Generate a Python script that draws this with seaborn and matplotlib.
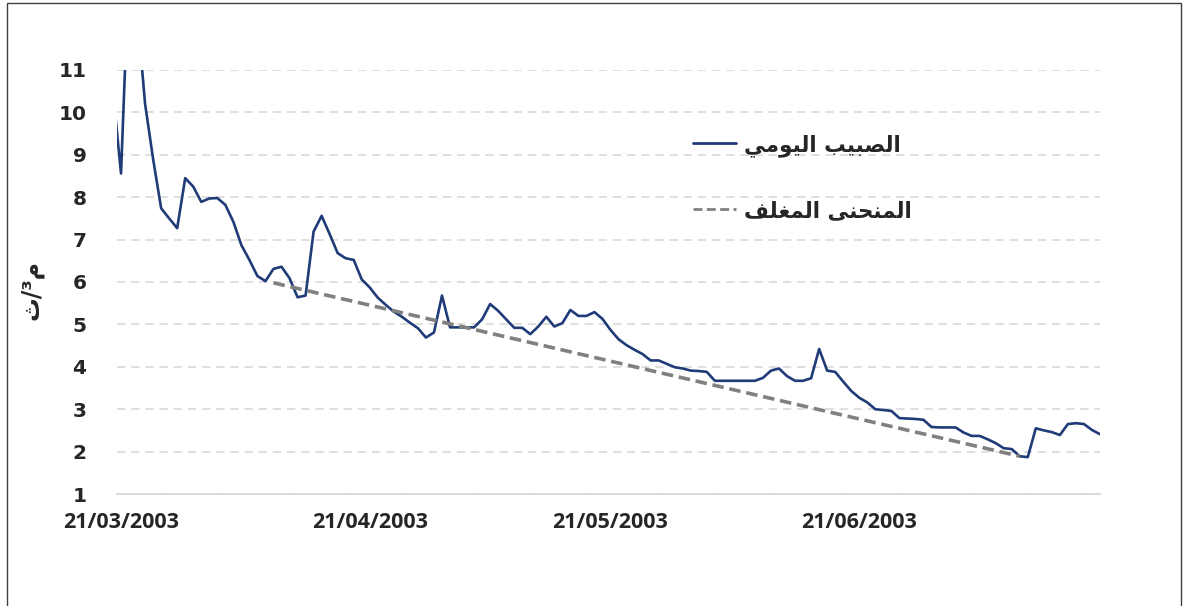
import pandas as pd
import seaborn as sns
import matplotlib.pyplot as plt
import matplotlib.dates as mdates
from matplotlib.patches import Rectangle

# --- Data ---
START_DATE = "2003-03-20"
daily_flow = [
    10.5, 8.56, 13.5, 12.4, 10.2, 8.9, 7.74, 7.5, 7.27, 8.45,
    8.25, 7.89, 7.97, 7.98, 7.82, 7.42, 6.87, 6.52, 6.14, 6.02,
    6.31, 6.36, 6.09, 5.64, 5.68, 7.19, 7.56, 7.13, 6.68, 6.56,
    6.52, 6.06, 5.87, 5.63, 5.46, 5.30, 5.18, 5.04, 4.91, 4.69,
    4.81, 5.68, 4.93, 4.93, 4.93, 4.93, 5.12, 5.48, 5.32, 5.12,
    4.92, 4.92, 4.77, 4.95, 5.18, 4.95, 5.03, 5.34, 5.20, 5.20,
    5.29, 5.13, 4.87, 4.65, 4.51, 4.40, 4.30, 4.15, 4.15, 4.07,
    3.99, 3.96, 3.91, 3.90, 3.88, 3.67, 3.67, 3.67, 3.67, 3.67,
    3.67, 3.74, 3.91, 3.96, 3.78, 3.67, 3.67, 3.73, 4.42, 3.91,
    3.88, 3.65, 3.43, 3.27, 3.16, 3.00, 2.98, 2.96, 2.79, 2.78,
    2.77, 2.75, 2.58, 2.57, 2.57, 2.57, 2.45, 2.37, 2.37, 2.29,
    2.20, 2.08, 2.06, 1.89, 1.87, 2.55, 2.50, 2.46, 2.39, 2.65,
    2.67, 2.65, 2.51, 2.41,
]
envelope_dates = ["2003-04-09", "2003-07-11"]
envelope_flow = [5.98, 1.89]
tick_dates = ["2003-03-21", "2003-04-21", "2003-05-21", "2003-06-21"]
y_ticks = list(range(1, 12))

LABEL_DAILY = "الصبيب اليومي"
LABEL_ENVELOPE = "المنحنى المغلف"
Y_LABEL = "ث/³م"  # m3/s, already in visual order

# --- minimal Arabic shaping (matplotlib has no RTL / joining support) ---
FORMS = {
    "ا": ("\ufe8d", "\ufe8e", "\ufe8d", "\ufe8e"),
    "و": ("\ufeed", "\ufeee", "\ufeed", "\ufeee"),
    "ى": ("\ufeef", "\ufef0", "\ufeef", "\ufef0"),
    "ل": ("\ufedd", "\ufede", "\ufedf", "\ufee0"),
    "ص": ("\ufeb9", "\ufeba", "\ufebb", "\ufebc"),
    "ب": ("\ufe8f", "\ufe90", "\ufe91", "\ufe92"),
    "ي": ("\ufef1", "\ufef2", "\ufef3", "\ufef4"),
    "م": ("\ufee1", "\ufee2", "\ufee3", "\ufee4"),
    "ن": ("\ufee5", "\ufee6", "\ufee7", "\ufee8"),
    "ح": ("\ufea1", "\ufea2", "\ufea3", "\ufea4"),
    "غ": ("\ufecd", "\ufece", "\ufecf", "\ufed0"),
    "ف": ("\ufed1", "\ufed2", "\ufed3", "\ufed4"),
}
DUAL = set("لصبيمنحغف")


def shape(text):
    out = []
    for i, ch in enumerate(text):
        if ch not in FORMS:
            out.append(ch)
            continue
        prev = text[i - 1] if i > 0 else ""
        nxt = text[i + 1] if i + 1 < len(text) else ""
        join_prev = prev in DUAL
        join_next = ch in DUAL and nxt in FORMS
        iso, fin, ini, med = FORMS[ch]
        if join_prev and join_next:
            out.append(med)
        elif join_prev:
            out.append(fin)
        elif join_next:
            out.append(ini)
        else:
            out.append(iso)
    return "".join(reversed(out))


daily = pd.DataFrame({
    "date": pd.date_range(START_DATE, periods=len(daily_flow), freq="D"),
    "flow": daily_flow,
})
envelope = pd.DataFrame({"date": pd.to_datetime(envelope_dates), "flow": envelope_flow})

sns.set_theme(style="white")
plt.rcParams["font.family"] = ["DejaVu Sans"]

fig = plt.figure(figsize=(11.87, 6.06), dpi=100)
ax = fig.add_axes([117 / 1187, 1 - 494 / 606, (1100 - 117) / 1187, (494 - 70) / 606])

sns.lineplot(data=daily, x="date", y="flow", ax=ax, color="#1f3b78",
             linewidth=1.9, label=shape(LABEL_DAILY))
sns.lineplot(data=envelope, x="date", y="flow", ax=ax, color="#808080",
             linewidth=2.6, linestyle="--", label=shape(LABEL_ENVELOPE))
ax.lines[1].set_dashes((3.2, 1.6))

ax.set_ylim(1, 11)
x0 = pd.Timestamp("2003-03-21") - pd.Timedelta(hours=12)
ax.set_xlim(x0, pd.Timestamp("2003-07-21"))
ax.set_yticks(y_ticks)
ax.set_xticks(pd.to_datetime(tick_dates))
ax.xaxis.set_major_formatter(mdates.DateFormatter("%d/%m/%Y"))

ax.yaxis.grid(True, color="#d9d9d9", linestyle=(0, (5, 3.5)), linewidth=1.2)
ax.xaxis.grid(False)
for side in ["left", "right", "top"]:
    ax.spines[side].set_visible(False)
ax.spines["bottom"].set_color("#d9d9d9")
ax.spines["bottom"].set_linewidth(1.3)
ax.tick_params(axis="both", length=0)
ax.tick_params(axis="y", pad=22)
ax.tick_params(axis="x", pad=13)

for lbl in ax.get_yticklabels():
    lbl.set_fontweight("bold")
    lbl.set_fontsize(14.5)
for lbl in ax.get_xticklabels():
    lbl.set_fontweight("bold")
    lbl.set_fontsize(15.5)
    lbl.set_family(["Open Sans", "DejaVu Sans"])

ax.set_xlabel("")
ax.set_ylabel(Y_LABEL, fontsize=17, fontweight="bold")
ax.yaxis.set_label_coords(-0.075, 0.48)

leg = ax.legend(loc="upper left", bbox_to_anchor=(693 / 1187, 1 - 134 / 606),
                bbox_transform=fig.transFigure, frameon=False,
                borderpad=0, borderaxespad=0,
                handlelength=2.0, handletextpad=0.35, labelspacing=2.05,
                prop={"weight": "bold", "size": 15.5})
for line in leg.get_lines():
    line.set_linewidth(2)

fig.patches.append(Rectangle((7 / 1187, -0.01), (1181 - 7) / 1187, 1.0 - 3 / 606 + 0.01,
                             transform=fig.transFigure, fill=False,
                             edgecolor="#404040", linewidth=1.0))

fig.savefig("out.png", dpi=100)
